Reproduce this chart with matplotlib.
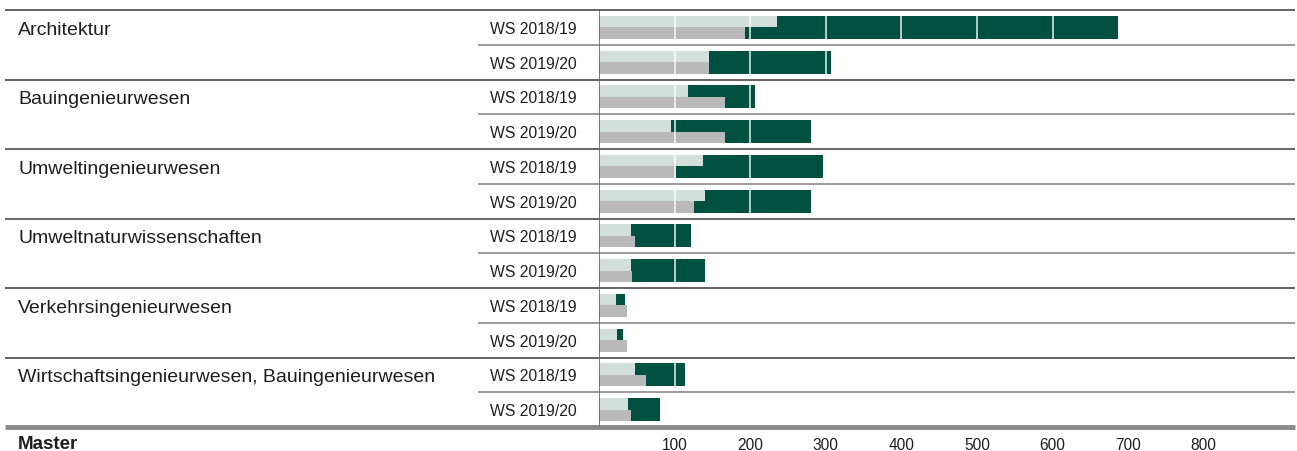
import numpy as np
import matplotlib.pyplot as plt

plt.rcParams['font.family'] = ['Liberation Sans', 'DejaVu Sans']

# Daten
studiengaenge = ['Architektur', 'Bauingenieurwesen', 'Umweltingenieurwesen',
                 'Umweltnaturwissenschaften', 'Verkehrsingenieurwesen',
                 'Wirtschaftsingenieurwesen, Bauingenieurwesen']
semester = ['WS 2018/19', 'WS 2019/20']
gesamt = [686, 307, 206, 280, 296, 280, 122, 140, 34, 32, 114, 81]
oben = [235, 146, 118, 95, 138, 140, 42, 42, 22, 24, 48, 38]
unten = [193, 146, 167, 167, 102, 126, 48, 44, 37, 37, 62, 42]
ticks = [100, 200, 300, 400, 500, 600, 700, 800]

c_dunkel = '#00503f'
c_hell = '#d2dfdb'
c_grau = '#b9b9b9'

W, H = 1297, 452
fig = plt.figure(figsize=(W / 100, H / 100), dpi=100)
x0, x1, y0, y1 = 599, 1295, 11, 428
ax = fig.add_axes([x0 / W, 1 - y1 / H, (x1 - x0) / W, (y1 - y0) / H])
px_per_unit = 0.756
ax.set_xlim(0, (x1 - x0) / px_per_unit)
n = len(gesamt)
ax.set_ylim(n, 0)

pos = np.arange(n) + 0.5
h = 0.66
ax.barh(pos, gesamt, height=h, color=c_dunkel, zorder=2)
ax.barh(pos - h / 4, oben, height=h / 2, color=c_hell, zorder=3)
ax.barh(pos + h / 4, unten, height=h / 2, color=c_grau, zorder=3)

# weisse Gitterlinien ueber den Balken
for t in ticks:
    ax.axvline(t, color='white', lw=1.1, alpha=0.9, zorder=4)

for s in ax.spines.values():
    s.set_visible(False)
ax.set_yticks([])
ax.set_xticks(ticks)
ax.set_xticklabels([str(t) for t in ticks], fontsize=11.2, color='#1e1e1e')
ax.tick_params(axis='x', length=0, pad=7)

trans = ax.get_yaxis_transform()
left_full = (5 - x0) / (x1 - x0)
left_sub = (478 - x0) / (x1 - x0)
x_grp = (18 - x0) / (x1 - x0)
x_sem = (490 - x0) / (x1 - x0)

for i in range(0, n, 2):
    ax.plot([left_full, 1], [i, i], transform=trans, color='#4a4a4a', lw=1.2,
            clip_on=False, zorder=5, solid_capstyle='butt')
    ax.plot([left_sub, 1], [i + 1, i + 1], transform=trans, color='#8a8a8a', lw=1.2,
            clip_on=False, zorder=5, solid_capstyle='butt')
ax.plot([left_full, 1], [n, n], transform=trans, color='#8a8a8a', lw=3.5,
        clip_on=False, zorder=5, solid_capstyle='butt')
ax.axvline(0, color='#666666', lw=1.2, zorder=5)

for g, name in enumerate(studiengaenge):
    ax.text(x_grp, 2 * g + 0.56, name, transform=trans, fontsize=14, color='#1e1e1e',
            ha='left', va='center')
    for k, sem in enumerate(semester):
        ax.text(x_sem, 2 * g + k + 0.53, sem, transform=trans, fontsize=11.3,
                color='#1e1e1e', ha='left', va='center')

ax.text(x_grp, n + 0.47, 'Master', transform=trans, fontsize=13.5, fontweight='bold',
        color='#1e1e1e', ha='left', va='center')

fig.savefig('out.png', dpi=100)
